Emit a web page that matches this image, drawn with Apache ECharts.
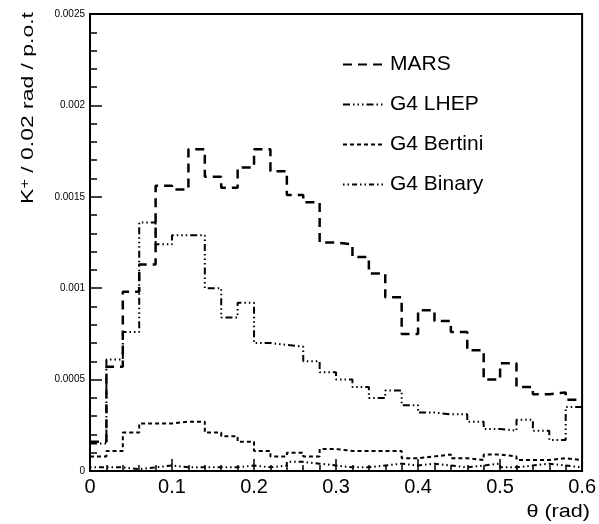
<!DOCTYPE html>
<html>
<head>
<meta charset="utf-8">
<script src="https://cdn.jsdelivr.net/npm/echarts@6/dist/echarts.min.js"></script>
<style>
  html, body { margin: 0; padding: 0; background: #fff; }
  #chart { width: 599px; height: 524px; }
</style>
</head>
<body>
<div id="chart"></div>
<script>
// Bin edges in theta (rad), 0.02 rad wide bins
const thetaEdges = [0, 0.02, 0.04, 0.06, 0.08, 0.10, 0.12, 0.14, 0.16, 0.18,
  0.20, 0.22, 0.24, 0.26, 0.28, 0.30, 0.32, 0.34, 0.36, 0.38,
  0.40, 0.42, 0.44, 0.46, 0.48, 0.50, 0.52, 0.54, 0.56, 0.58, 0.60];

// K+ yield per bin per proton on target
const mars = [0.00016, 0.00057, 0.00098, 0.00113, 0.00156, 0.00154, 0.00176, 0.00161, 0.00155, 0.00166,
  0.00176, 0.00164, 0.00151, 0.00147, 0.00125, 0.00124, 0.00117, 0.00108, 0.00095, 0.00075,
  0.00088, 0.00082, 0.00076, 0.00066, 0.00050, 0.00059, 0.00046, 0.00042, 0.00043, 0.00039];

const g4Lhep = [0.00015, 0.00061, 0.00076, 0.00136, 0.00124, 0.00129, 0.00129, 0.00100, 0.00084, 0.00092,
  0.00070, 0.00069, 0.00068, 0.00060, 0.00054, 0.00050, 0.00046, 0.00040, 0.00044, 0.00036,
  0.00032, 0.00031, 0.00031, 0.00027, 0.00023, 0.00022, 0.00028, 0.00022, 0.00017, 0.00035];

const g4Bertini = [0.00008, 0.00011, 0.00021, 0.00026, 0.00026, 0.00027, 0.00027, 0.00021, 0.00019, 0.00016,
  0.00011, 0.00008, 0.00010, 0.00008, 0.00012, 0.00011, 0.00011, 0.00011, 0.00011, 0.00007,
  0.00008, 0.00009, 0.00007, 0.00006, 0.00009, 0.00008, 0.00006, 0.00006, 0.00007, 0.00006];

const g4Binary = [0.00002, 0.00002, 0.00001, 0.00002, 0.00003, 0.00002, 0.00002, 0.00002, 0.00002, 0.00003,
  0.00002, 0.00003, 0.00005, 0.00004, 0.00003, 0.00002, 0.00002, 0.00003, 0.00004, 0.00003,
  0.00004, 0.00003, 0.00002, 0.00003, 0.00004, 0.00002, 0.00003, 0.00004, 0.00003, 0.00002];

const seriesNames = ['MARS', 'G4 LHEP', 'G4 Bertini', 'G4 Binary'];
const xTickLabels = ['0', '0.1', '0.2', '0.3', '0.4', '0.5', '0.6'];
const yTickLabels = ['0', '0.0005', '0.001', '0.0015', '0.002', '0.0025'];

const FONT = "'Liberation Sans', Arial, Helvetica, sans-serif";

// Turn per-bin contents into step points: one point at each bin's left edge,
// plus a closing point at the right edge of the last bin.
function histPoints(values) {
  const pts = values.map((v, i) => [thetaEdges[i], v]);
  pts.push([thetaEdges[values.length], values[values.length - 1]]);
  return pts;
}

function histSeries(name, values, width, dash) {
  return {
    name: name,
    type: 'line',
    step: 'end',
    symbol: 'none',
    data: histPoints(values),
    lineStyle: { color: '#000', width: width, type: dash },
    itemStyle: { color: '#000' },
    emphasis: { disabled: true },
    z: 3
  };
}

const chart = echarts.init(document.getElementById('chart'), null, { renderer: 'canvas' });

chart.setOption({
  animation: false,
  backgroundColor: '#fff',
  grid: {
    left: 90, right: 9, top: 14, bottom: 53,
    show: true, borderColor: '#000', borderWidth: 2, backgroundColor: 'transparent'
  },
  legend: {
    orient: 'vertical',
    left: 337,
    top: 49,
    itemWidth: 42,
    itemHeight: 14,
    itemGap: 19,
    itemStyle: { opacity: 0 },
    textStyle: { fontFamily: FONT, fontSize: 21, color: '#000' },
    selectedMode: false,
    data: seriesNames
  },
  xAxis: {
    type: 'value',
    min: 0, max: 0.6, interval: 0.1,
    axisLine: { show: true, onZero: false, lineStyle: { color: '#000', width: 2 } },
    axisTick: { show: true, inside: true, length: 12, lineStyle: { color: '#000', width: 1.5 } },
    minorTick: { show: true, splitNumber: 5, length: 6, lineStyle: { color: '#000', width: 1.5 } },
    splitLine: { show: false },
    axisLabel: {
      margin: 6, fontFamily: FONT, fontSize: 20, color: '#000',
      formatter: v => xTickLabels[Math.round(v / 0.1)]
    }
  },
  yAxis: {
    type: 'value',
    min: 0, max: 0.0025, interval: 0.0005,
    axisLine: { show: true, onZero: false, lineStyle: { color: '#000', width: 2 } },
    axisTick: { show: true, inside: true, length: 12, lineStyle: { color: '#000', width: 1.5 } },
    minorTick: { show: true, splitNumber: 5, length: 7, lineStyle: { color: '#000', width: 1.5 } },
    splitLine: { show: false },
    axisLabel: {
      margin: 5, fontFamily: FONT, fontSize: 10, color: '#000',
      formatter: v => yTickLabels[Math.round(v / 0.0005)]
    }
  },
  graphic: [
    {
      type: 'text',
      x: 28, y: 12,
      rotation: Math.PI / 2,
      scaleX: 1.35,
      style: {
        text: '{a|K}{s|+}{a| / 0.02 rad / p.o.t}',
        align: 'right',
        verticalAlign: 'middle',
        rich: {
          a: { fontFamily: FONT, fontSize: 17, fill: '#000', verticalAlign: 'bottom' },
          s: { fontFamily: FONT, fontSize: 12, fill: '#000', verticalAlign: 'top' }
        }
      }
    },
    {
      type: 'text',
      x: 590, y: 512,
      scaleX: 1.2,
      style: {
        text: '\u03b8 (rad)',
        fontFamily: FONT, fontSize: 18, fill: '#000',
        align: 'right', verticalAlign: 'middle'
      }
    }
  ],
  series: [
    histSeries(seriesNames[0], mars, 2.5, [9, 6]),
    histSeries(seriesNames[1], g4Lhep, 2, [7, 3, 1.5, 3, 1.5, 3, 1.5, 3]),
    histSeries(seriesNames[2], g4Bertini, 2, [4, 3]),
    histSeries(seriesNames[3], g4Binary, 2, [1.5, 3, 1.5, 3, 5, 3])
  ]
});
</script>
</body>
</html>
